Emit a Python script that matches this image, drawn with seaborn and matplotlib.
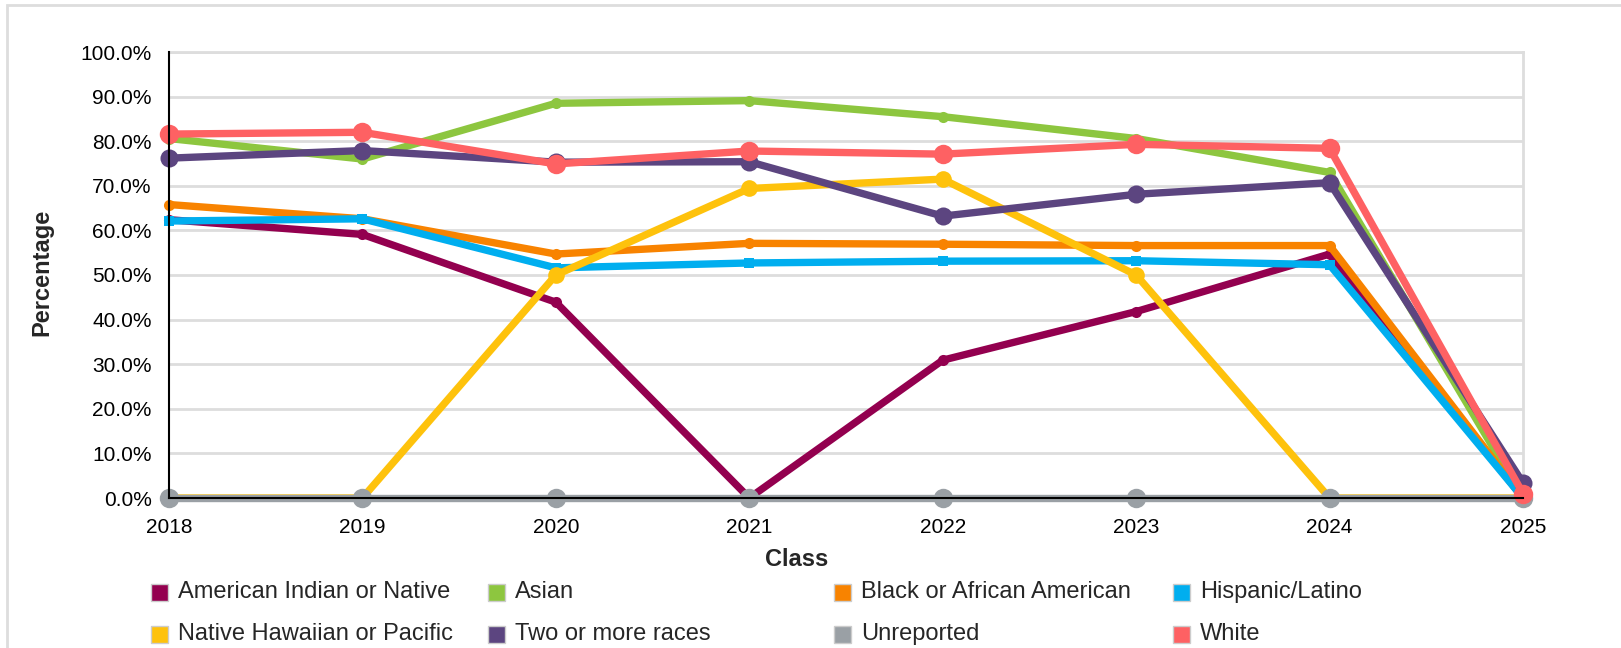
import matplotlib
matplotlib.use("Agg")
import matplotlib.pyplot as plt
from matplotlib.patches import Rectangle
from matplotlib.ticker import FuncFormatter
import seaborn as sns
import pandas as pd

years = [2018, 2019, 2020, 2021, 2022, 2023, 2024, 2025]

groups = ["American Indian or Native", "Asian", "Black or African American", "Hispanic/Latino",
          "Native Hawaiian or Pacific", "Two or more races", "Unreported", "White"]

american_indian = [62.4, 59.1, 43.9, 0.0, 30.9, 41.8, 54.7, 0.0]
asian = [80.6, 76.0, 88.5, 89.1, 85.5, 80.6, 73.0, 0.0]
black = [65.8, 62.6, 54.7, 57.1, 56.9, 56.6, 56.6, 0.0]
hispanic = [62.1, 62.6, 51.6, 52.7, 53.1, 53.2, 52.3, 0.0]
native_hawaiian = [0.0, 0.0, 50.0, 69.4, 71.5, 50.0, 0.0, 0.0]
two_or_more = [76.2, 77.9, 75.3, 75.4, 63.2, 68.1, 70.7, 3.4]
unreported = [0.0, 0.0, 0.0, 0.0, 0.0, 0.0, 0.0, 0.0]
white = [81.6, 82.0, 74.9, 77.8, 77.1, 79.3, 78.4, 1.0]

values = [american_indian, asian, black, hispanic, native_hawaiian, two_or_more, unreported, white]
colors = ["#93004f", "#8dc63f", "#f88300", "#00aeef", "#fec20c", "#5c4580", "#9aa0a5", "#fe6163"]
markers = ["o", "o", "o", "s", "o", "o", "o", "o"]
msizes = [8, 8, 8, 7.5, 12, 13, 14, 14]

df = pd.DataFrame({"Class": years * len(groups),
                   "Group": [g for g in groups for _ in years],
                   "Percentage": [v for vals in values for v in vals]})

sns.set_style("white")
plt.rcParams["font.family"] = ["Liberation Sans", "DejaVu Sans"]

W, H = 1621, 648
fig = plt.figure(figsize=(W / 100, H / 100), dpi=100)
ax = fig.add_axes([169 / W, 1 - 498 / H, (1523 - 169) / W, (498 - 52) / H])

for i, g in enumerate(groups):
    sub = df[df["Group"] == g]
    sns.lineplot(data=sub, x="Class", y="Percentage", ax=ax, color=colors[i],
                 linewidth=5.3, marker=markers[i], markersize=msizes[i],
                 markeredgewidth=0, legend=False, clip_on=False, zorder=3 + i)

ax.set_xlim(2018, 2025)
ax.set_ylim(0, 100)
ax.set_xticks(years)
ax.set_yticks(range(0, 101, 10))
ax.yaxis.set_major_formatter(FuncFormatter(lambda v, p: f"{v:.1f}%"))
ax.grid(axis="y", color="#dddddd", linewidth=2)
ax.grid(axis="x", visible=False)
ax.set_axisbelow(True)

for side in ["top", "right"]:
    ax.spines[side].set_color("#dddddd")
    ax.spines[side].set_linewidth(2)
for side in ["left", "bottom"]:
    ax.spines[side].set_color("black")
    ax.spines[side].set_linewidth(1.5)
    ax.spines[side].set_zorder(20)
ax.tick_params(axis="both", direction="out", length=7.5, width=1.4, color="black",
               labelsize=15, labelcolor="black", pad=5)
ax.tick_params(axis="x", pad=7)

ax.set_xlabel("")
ax.set_ylabel("")
fig.text(42 / W, 1 - 272 / H, "Percentage", rotation=90, ha="center", va="center",
         fontsize=17, fontweight="bold")
fig.text(797 / W, 1 - 560 / H, "Class", ha="center", va="center",
         fontsize=17, fontweight="bold")

# legend: 4 columns, 2 rows
col_x = [151, 488, 834, 1173]
row_y = [592, 634]
for i, g in enumerate(groups):
    x = col_x[i % 4]
    y = row_y[i // 4]
    fig.add_artist(Rectangle((x / W, 1 - (y + 8.5) / H), 17 / W, 17 / H,
                             transform=fig.transFigure, facecolor=colors[i],
                             edgecolor="#cccccc", linewidth=1))
    fig.text((x + 27) / W, 1 - y / H, g, ha="left", va="center", fontsize=17)

# outer frame (only top and left edges are visible)
fig.add_artist(Rectangle((7 / W, -0.1), 1.2, 1 - 5 / H + 0.1, transform=fig.transFigure,
                         fill=False, edgecolor="#dddddd", linewidth=2))

fig.savefig("out.png", dpi=100)
plt.close(fig)
